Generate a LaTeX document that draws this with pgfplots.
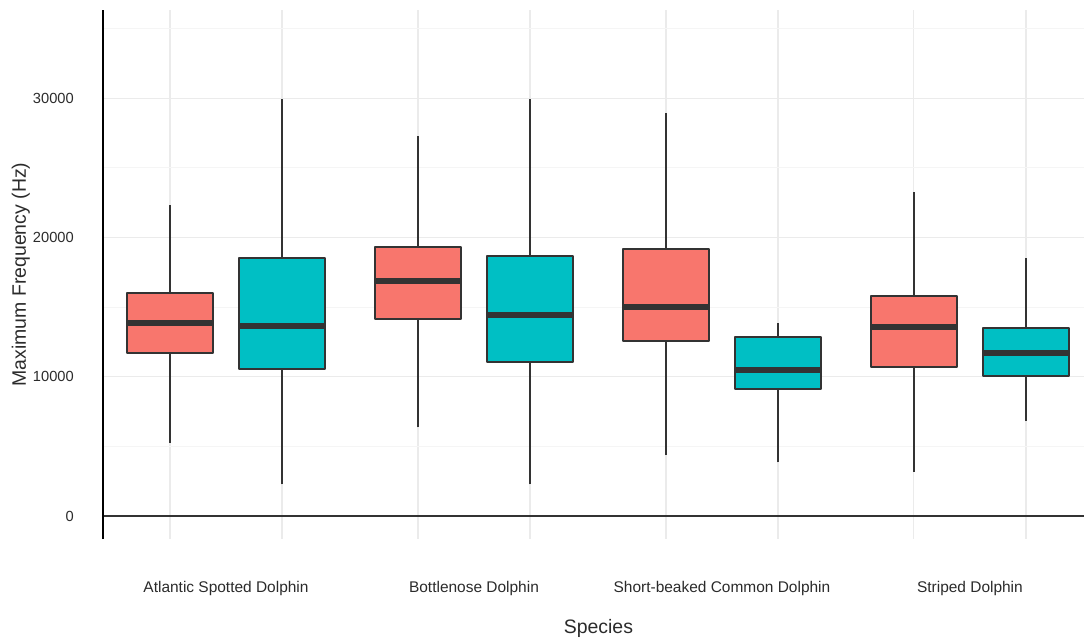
\documentclass[border=0pt]{standalone}
\usepackage{fontspec}
\setmainfont{Liberation Sans}
\usepackage{pgfplots}
\pgfplotsset{compat=1.18}

\definecolor{gred}{HTML}{F8766D}
\definecolor{gteal}{HTML}{00BFC4}
\definecolor{edge}{HTML}{333333}
\definecolor{txt}{HTML}{2B2B2B}
\definecolor{gridmaj}{HTML}{EBEBEB}
\definecolor{gridmin}{HTML}{F5F5F5}

% one box: colour, left, centre, right, lower whisker, Q1, median, Q3, upper whisker
\newcommand{\dbox}[9]{%
  \addplot[edge, line width=1.4pt] coordinates {(#3,#5) (#3,#6)};
  \addplot[edge, line width=1.4pt] coordinates {(#3,#8) (#3,#9)};
  \addplot[fill=#1, draw=edge, line width=1.4pt, line join=round] coordinates {(#2,#6) (#4,#6) (#4,#8) (#2,#8)} -- cycle;
  \addplot[edge, line width=4.5pt] coordinates {(#2,#7) (#4,#7)};
}

\begin{document}
\begin{tikzpicture}
\begin{axis}[
    scale only axis,
    width=735.75pt, height=396.75pt,
    xmin=0.504, xmax=4.46,
    ymin=-1650, ymax=36330,
    axis line style={draw=none},
    major tick length=0pt, minor tick length=0pt,
    xtick={1,2,3,4},
    xticklabels={Atlantic Spotted Dolphin, Bottlenose Dolphin, Short-beaked Common Dolphin, Striped Dolphin},
    minor xtick={0.774,1.226,1.774,2.226,2.774,3.226,3.774,4.226},
    ytick={0,10000,20000,30000},
    minor ytick={5000,15000,25000,35000},
    scaled y ticks=false,
    yticklabel={\pgfmathprintnumber[fixed,1000 sep={}]{\tick}},
    /pgf/number format/assume math mode=true,
    xmajorgrids=false, xminorgrids=true,
    ymajorgrids=true, yminorgrids=true,
    major grid style={gridmaj, line width=1pt},
    minor y grid style={gridmin, line width=0.8pt},
    minor x grid style={gridmaj, line width=0.9pt},
    xticklabel style={font=\fontsize{11.6}{14}\selectfont, text=txt, anchor=base, yshift=-39.75pt},
    yticklabel style={font=\fontsize{11}{13}\selectfont, text=txt, anchor=east, inner sep=0pt, xshift=-21.75pt},
    xlabel={Species},
    ylabel={Maximum Frequency (Hz)},
    xlabel style={font=\fontsize{14.6}{17}\selectfont, text=txt, anchor=base, at={(axis description cs:0.505,-0.1777)}},
    ylabel style={font=\fontsize{14.6}{17}\selectfont, text=txt, anchor=base, at={(axis description cs:-0.0785,0.5)}},
    clip=false,
]
% reference line at zero
\addplot[edge, line width=1.2pt] coordinates {(0.504,0) (4.46,0)};

% Atlantic Spotted Dolphin
\dbox{gred}{0.6005}{0.774}{0.9475}{5260}{11680}{13830}{15990}{22350}
\dbox{gteal}{1.0525}{1.226}{1.3995}{2270}{10570}{13660}{18540}{29960}
% Bottlenose Dolphin
\dbox{gred}{1.6005}{1.774}{1.9475}{6370}{14140}{16870}{19330}{27280}
\dbox{gteal}{2.0525}{2.226}{2.3995}{2270}{11030}{14450}{18660}{29960}
% Short-beaked Common Dolphin
\dbox{gred}{2.6005}{2.774}{2.9475}{4380}{12560}{14980}{19170}{28910}
\dbox{gteal}{3.0525}{3.226}{3.3995}{3850}{9090}{10480}{12870}{13880}
% Striped Dolphin
\dbox{gred}{3.6005}{3.774}{3.9475}{3180}{10670}{13590}{15820}{23280}
\dbox{gteal}{4.0525}{4.226}{4.3995}{6820}{10050}{11680}{13470}{18540}

\draw[black, line width=1.1pt] (rel axis cs:0,0) -- (rel axis cs:0,1);
\coordinate (bl) at (rel axis cs:0,0);
\coordinate (tr) at (rel axis cs:1,1);
\end{axis}
\pgfresetboundingbox
\path ([shift={(-77.25pt,-73.5pt)}]bl) rectangle ([shift={(0pt,7.5pt)}]tr);
\end{tikzpicture}
\end{document}
